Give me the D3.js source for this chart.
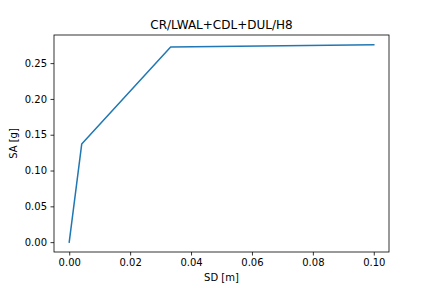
<!DOCTYPE html>
<html><head><meta charset="utf-8">
<script src="https://cdn.jsdelivr.net/npm/d3@7"></script>
<style>body{margin:0;background:#fff}svg{display:block}text{font-family:"DejaVu Sans",sans-serif}</style>
</head><body>
<svg id="c" width="432" height="288"></svg>
<script>
const sd = [0, 0.0041, 0.0333, 0.1];
const sa = [0, 0.137, 0.2725, 0.2755];
const xTicks = [0, 0.02, 0.04, 0.06, 0.08, 0.10];
const yTicks = [0, 0.05, 0.10, 0.15, 0.20, 0.25];
const title = "CR/LWAL+CDL+DUL/H8";

const svg = d3.select("#c");
const L = 54, R = 389, T = 35, B = 252;
const xmin = d3.min(sd), xmax = d3.max(sd), ymin = d3.min(sa), ymax = d3.max(sa);
const xm = (xmax - xmin) * 0.05, ym = (ymax - ymin) * 0.05;
const x = d3.scaleLinear().domain([xmin - xm, xmax + xm]).range([L, R]);
const y = d3.scaleLinear().domain([ymin - ym, ymax + ym]).range([B, T]);

const xa = svg.append("g").attr("transform", `translate(0,${B})`)
  .call(d3.axisBottom(x).tickValues(xTicks).tickFormat(d3.format(".2f")).tickSize(3.5).tickPadding(3.5));
const ya = svg.append("g").attr("transform", `translate(${L},0)`)
  .call(d3.axisLeft(y).tickValues(yTicks).tickFormat(d3.format(".2f")).tickSize(3.5).tickPadding(3.5));
[xa, ya].forEach(a => {
  a.select(".domain").remove();
  a.selectAll("text").attr("font-size", 10).attr("fill", "#000").style("font-family", "DejaVu Sans");
  a.selectAll("line").attr("stroke", "#000").attr("stroke-width", 0.8);
});

svg.append("path").datum(sd.map((d, i) => [d, sa[i]]))
  .attr("fill", "none").attr("stroke", "#1f77b4").attr("stroke-width", 1.5)
  .attr("stroke-linejoin", "round").attr("stroke-linecap", "square")
  .attr("d", d3.line().x(d => x(d[0])).y(d => y(d[1])));

svg.append("rect").attr("x", L).attr("y", T).attr("width", R - L).attr("height", B - T)
  .attr("fill", "none").attr("stroke", "#000").attr("stroke-width", 0.8);

svg.append("text").attr("x", (L + R) / 2).attr("y", T - 6).attr("text-anchor", "middle")
  .attr("font-size", 12).text(title);
svg.append("text").attr("x", (L + R) / 2).attr("y", 281).attr("text-anchor", "middle")
  .attr("font-size", 10).text("SD [m]");
svg.append("text").attr("transform", `translate(17,${(T + B) / 2}) rotate(-90)`).attr("text-anchor", "middle")
  .attr("font-size", 10).text("SA [g]");
</script>
</body></html>
